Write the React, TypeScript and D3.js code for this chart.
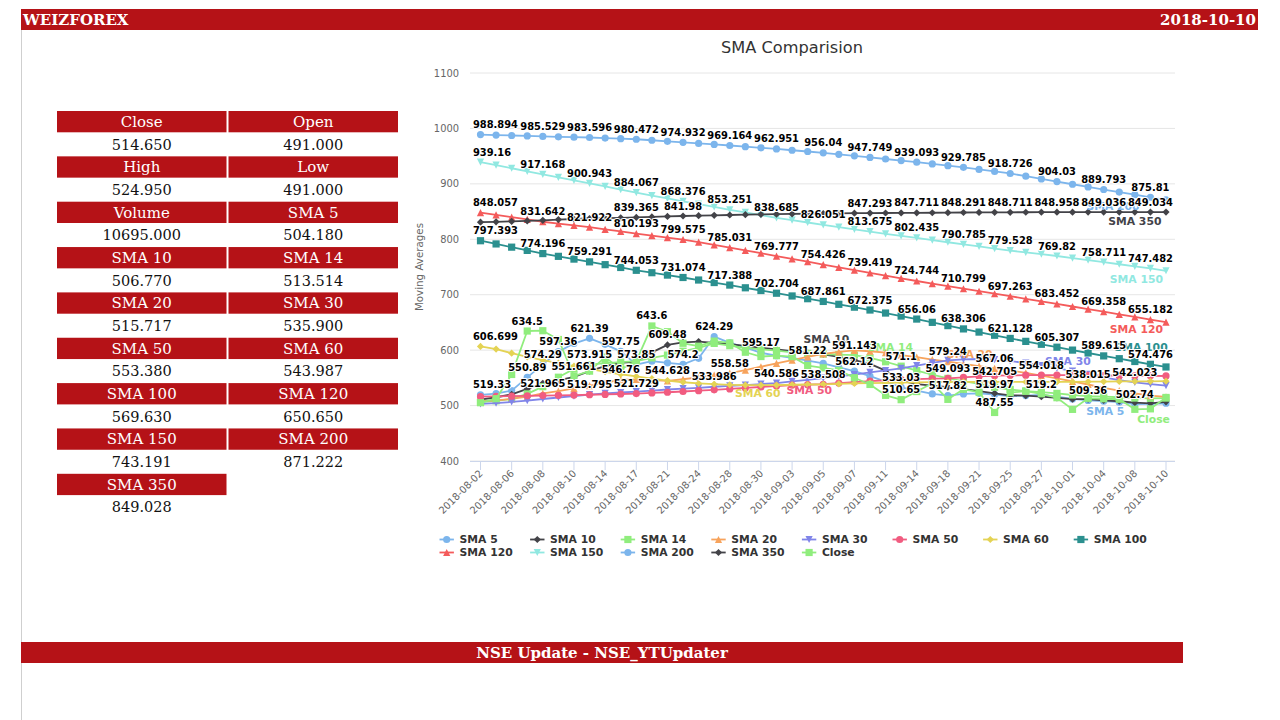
import * as d3 from "d3";
import { useMemo } from "react";

// trading days shown on the x axis
const dates = [
  "2018-08-02", "2018-08-03", "2018-08-06", "2018-08-07", "2018-08-08", "2018-08-09", "2018-08-10", "2018-08-13",
  "2018-08-14", "2018-08-16", "2018-08-17", "2018-08-20", "2018-08-21", "2018-08-23", "2018-08-24", "2018-08-27",
  "2018-08-28", "2018-08-29", "2018-08-30", "2018-08-31", "2018-09-03", "2018-09-04", "2018-09-05", "2018-09-06",
  "2018-09-07", "2018-09-10", "2018-09-11", "2018-09-12", "2018-09-14", "2018-09-17", "2018-09-18", "2018-09-19",
  "2018-09-21", "2018-09-24", "2018-09-25", "2018-09-26", "2018-09-27", "2018-09-28", "2018-10-01", "2018-10-03",
  "2018-10-04", "2018-10-05", "2018-10-08", "2018-10-09", "2018-10-10",
];

const sma5 = [519.33, 521.47, 527.06, 550.89, 574.29, 597.36, 611.94, 621.39, 610.53, 597.75, 573.85, 580.03, 577.11, 574.2, 585.31, 624.29, 613.07, 605.13, 595.17, 590.04, 586.11, 581.22, 576.05, 569.13, 562.12, 553.09, 543.03, 533.03, 527.06, 521.08, 517.82, 521.04, 522.06, 519.97, 517.09, 518.06, 519.2, 516.07, 512.03, 509.36, 508.02, 506.09, 502.74, 503.06, 504.18];
const sma10 = [510.545, 515.03, 520.12, 530.085, 540.23, 545.515, 551.661, 562.04, 571.105, 577.03, 579.52, 596.035, 609.48, 614.08, 615.54, 613.065, 611.02, 607.535, 604.315, 601.21, 598.125, 595.305, 592.51, 588.035, 582.04, 575.115, 563.03, 545.215, 538.53, 536.105, 533.215, 529.605, 526.115, 522.035, 518.52, 517.815, 516.02, 514.045, 511.525, 511.505, 509.315, 507.835, 505.415, 504.03, 506.77];
const sma14 = [506.114, 508.532, 512.075, 521.04, 534.093, 551.146, 566.146, 573.915, 576.507, 578.536, 580.085, 586.046, 591.107, 598.117, 604.036, 612.114, 608.082, 604.043, 601.536, 599.075, 596.018, 594.093, 593.011, 592.057, 591.143, 586.029, 579.064, 571.1, 563.036, 556.011, 549.093, 544.054, 539.029, 533.068, 529.011, 526.043, 524.096, 522.018, 519.057, 517.036, 516.011, 515.043, 513.546, 513.021, 513.514];
const sma20 = [508.02, 509.535, 512.068, 516.04, 521.965, 526.045, 531.018, 536.062, 541.037, 546.76, 547.218, 545.965, 544.628, 547.513, 551.058, 554.825, 558.58, 564.015, 570.068, 576.03, 582.045, 588.012, 593.063, 597.027, 599.545, 598.018, 595.53, 591.055, 587.518, 583.04, 579.24, 575.015, 571.038, 567.06, 563.025, 559.043, 554.018, 549.055, 543.532, 538.015, 532.068, 527.04, 522.013, 518.055, 515.717];
const sma30 = [503.043, 504.512, 506.518, 509.027, 511.843, 514.532, 517.117, 519.795, 522.023, 523.545, 525.017, 527.033, 529.028, 530.512, 532.047, 533.986, 535.518, 537.018, 538.837, 540.586, 543.508, 546.542, 549.517, 552.835, 556.018, 559.807, 563.312, 567.004, 572.017, 577.043, 581.517, 583.515, 584.022, 583.037, 580.518, 576.533, 572.012, 567.528, 562.043, 556.342, 551.017, 546.038, 542.023, 538.512, 535.9];
const sma50 = [516.036, 516.512, 517.031, 517.527, 518.043, 518.518, 519.027, 519.512, 520.137, 520.914, 521.729, 522.811, 524.036, 525.412, 526.927, 528.486, 530.118, 531.831, 533.522, 535.286, 536.913, 537.727, 538.508, 540.626, 542.312, 543.927, 545.411, 546.703, 547.718, 548.525, 549.146, 551.012, 552.526, 554.005, 554.517, 554.806, 555.013, 555.021, 554.814, 554.526, 554.218, 554.013, 553.817, 553.604, 553.38];
const sma60 = [606.699, 602.013, 594.528, 588.017, 582.036, 576.512, 571.028, 566.043, 561.017, 556.532, 552.518, 548.537, 545.012, 542.038, 540.016, 538.527, 537.518, 537.023, 536.812, 537.016, 537.527, 538.013, 538.308, 539.317, 540.021, 540.613, 541.118, 541.627, 542.012, 542.318, 542.517, 542.608, 542.712, 542.705, 542.698, 542.652, 542.615, 542.713, 542.906, 543.117, 543.314, 543.508, 543.623, 543.812, 543.987];
const sma100 = [797.393, 791.594, 785.795, 779.996, 774.196, 769.228, 764.26, 759.291, 754.212, 749.132, 744.053, 739.727, 735.4, 731.074, 726.512, 721.95, 717.388, 712.493, 707.599, 702.704, 697.756, 692.809, 687.861, 682.699, 677.537, 672.375, 666.937, 661.498, 656.06, 650.142, 644.224, 638.306, 632.58, 626.854, 621.128, 615.854, 610.581, 605.307, 600.077, 594.846, 589.615, 584.569, 579.522, 574.476, 569.63];
const sma120 = [848.057, 843.953, 839.849, 835.745, 831.642, 828.402, 825.162, 821.922, 818.012, 814.103, 810.193, 806.654, 803.114, 799.575, 794.727, 789.879, 785.031, 779.946, 774.862, 769.777, 764.66, 759.543, 754.426, 749.424, 744.421, 739.419, 734.527, 729.636, 724.744, 720.096, 715.447, 710.799, 706.287, 701.775, 697.263, 692.659, 688.056, 683.452, 678.754, 674.056, 669.358, 664.633, 659.907, 655.182, 650.65];
const sma150 = [939.16, 933.658, 928.164, 922.667, 917.168, 911.756, 906.349, 900.943, 895.317, 889.692, 884.067, 878.837, 873.606, 868.376, 863.334, 858.292, 853.251, 848.396, 843.541, 838.685, 834.474, 830.262, 826.051, 821.925, 817.8, 813.675, 809.928, 806.182, 802.435, 798.552, 794.668, 790.785, 787.033, 783.281, 779.528, 776.292, 773.056, 769.82, 766.117, 762.414, 758.711, 754.968, 751.225, 747.482, 743.191];
const sma200 = [988.894, 988.012, 987.215, 986.397, 985.529, 984.873, 984.226, 983.596, 982.561, 981.508, 980.472, 978.654, 976.817, 974.932, 973.018, 971.097, 969.164, 967.103, 965.041, 962.951, 960.648, 958.342, 956.04, 953.271, 950.513, 947.749, 944.864, 941.978, 939.093, 935.989, 932.887, 929.785, 926.099, 922.413, 918.726, 913.828, 908.929, 904.03, 899.284, 894.539, 889.793, 885.132, 880.471, 875.81, 871.222];
const sma350 = [830.812, 831.524, 832.298, 833.187, 834.263, 835.479, 836.592, 837.488, 838.216, 838.807, 839.365, 840.279, 841.163, 841.98, 842.614, 843.227, 843.796, 844.318, 844.806, 845.271, 845.692, 846.087, 846.428, 846.791, 847.082, 847.293, 847.418, 847.573, 847.711, 847.905, 848.097, 848.291, 848.427, 848.572, 848.711, 848.804, 848.887, 848.958, 848.997, 849.019, 849.036, 849.041, 849.039, 849.034, 849.028];
const closeValues = [505.2, 512.45, 556.1, 634.5, 635.05, 619.2, 553.35, 562.1, 587.45, 565.3, 580.15, 643.6, 633.25, 612.4, 607.15, 616.3, 613.05, 596.2, 588.45, 590.1, 588.35, 572.2, 568.05, 563.4, 550.25, 538.1, 518.45, 510.65, 525.3, 540.15, 511.2, 529.35, 524.1, 487.55, 523.4, 526.15, 521.3, 514.2, 493.15, 513.05, 512.3, 511.4, 493.25, 494.1, 514.65];

const seriesNames = ["SMA 5", "SMA 10", "SMA 14", "SMA 20", "SMA 30", "SMA 50", "SMA 60", "SMA 100", "SMA 120", "SMA 150", "SMA 200", "SMA 350", "Close"];
const seriesValues = [sma5, sma10, sma14, sma20, sma30, sma50, sma60, sma100, sma120, sma150, sma200, sma350, closeValues];
const seriesColors = ["#7cb5ec", "#434348", "#90ed7d", "#f7a35c", "#8085e9", "#f15c80", "#e4d354", "#2b908f", "#f45b5b", "#91e8e1", "#7cb5ec", "#434348", "#90ed7d"];
const seriesSymbols = ["circle", "diamond", "square", "triangle", "triangle-down", "circle", "diamond", "square", "triangle", "triangle-down", "circle", "diamond", "square"];

// where the series-label module put each name (category index, value)
const seriesLabelSpots = [
  [40.1, 489], [22.2, 619], [26.3, 605], [31.4, 592], [37.7, 580], [21.1, 527], [17.8, 523],
  [42.4, 605], [42.1, 637], [42.1, 728], [40.6, 860], [42.0, 833], [43.2, 475],
];

const yTicks = [400, 500, 600, 700, 800, 900, 1000, 1100];

const tableNames = ["Close", "Open", "High", "Low", "Volume", "SMA 5", "SMA 10", "SMA 14", "SMA 20", "SMA 30", "SMA 50", "SMA 60", "SMA 100", "SMA 120", "SMA 150", "SMA 200", "SMA 350"];
const tableValues = ["514.650", "491.000", "524.950", "491.000", "10695.000", "504.180", "506.770", "513.514", "515.717", "535.900", "553.380", "543.987", "569.630", "650.650", "743.191", "871.222", "849.028"];

const RED = "#b51217";
const SANS = '"DejaVu Sans", sans-serif';
const SERIF = '"DejaVu Serif", serif';

function symbolPath(kind: string, cx: number, cy: number, r: number) {
  switch (kind) {
    case "diamond":
      return `M${cx},${cy - r}L${cx + r},${cy}L${cx},${cy + r}L${cx - r},${cy}Z`;
    case "square":
      return `M${cx - r},${cy - r}h${2 * r}v${2 * r}h${-2 * r}Z`;
    case "triangle":
      return `M${cx},${cy - r}L${cx + r},${cy + r}L${cx - r},${cy + r}Z`;
    case "triangle-down":
      return `M${cx - r},${cy - r}L${cx + r},${cy - r}L${cx},${cy + r}Z`;
    default:
      return `M${cx - r},${cy}a${r},${r} 0 1,0 ${2 * r},0a${r},${r} 0 1,0 ${-2 * r},0Z`;
  }
}

function SmaChart() {
  const plotLeft = 473, plotRight = 1173, plotTop = 73, plotBottom = 461;
  const x = d3.scaleLinear([0, dates.length - 1], [480.5, 1166]);
  const y = d3.scaleLinear([400, 1100], [plotBottom, plotTop]);
  const line = d3.line<number>((d, i) => x(i), (d) => y(d));
  const r = 3.6;

  // data labels, hidden when they collide with ones already placed (series order)
  const dataLabels = useMemo(() => {
    const ctx = document.createElement("canvas").getContext("2d")!;
    ctx.font = `bold 9.9px ${SANS}`;
    const boxes: number[][] = [];
    const out: { text: string; x: number; y: number }[] = [];
    seriesValues.forEach((vals) => {
      vals.forEach((v, i) => {
        const text = String(v);
        const w = ctx.measureText(text).width;
        let left = x(i) - w / 2;
        if (left < plotLeft) left = plotLeft;
        if (left + w > plotRight) left = plotRight - w;
        const py = y(v);
        const b = [left, left + w, py - 16, py - 4];
        const hit = boxes.some((o) => o[0] < b[1] && b[0] < o[1] && o[2] < b[3] && b[2] < o[3]);
        if (hit) return;
        boxes.push(b);
        out.push({ text, x: left + w / 2, y: py - 6.5 });
      });
    });
    return out;
  }, []);

  const tickIdx = dates.map((_, i) => i).filter((i) => i % 2 === 0);

  return (
    <g fontFamily={SANS}>
      <text x={792} y={53} textAnchor="middle" fontSize={16.2} fill="#333333">SMA Comparision</text>

      {yTicks.map((t) => (
        <g key={t}>
          <line x1={plotLeft - 3} x2={plotRight + 2} y1={y(t)} y2={y(t)} stroke="#e6e6e6" strokeWidth={1} />
          <text x={459} y={y(t) + 3.5} textAnchor="end" fontSize={9.9} fill="#666666">{t}</text>
        </g>
      ))}
      <text transform={`translate(423,${(plotTop + plotBottom) / 2}) rotate(-90)`} textAnchor="middle" fontSize={10.3} fill="#666666">
        Moving Averages
      </text>

      <line x1={plotLeft - 3} x2={plotRight + 2} y1={plotBottom + 0.5} y2={plotBottom + 0.5} stroke="#ccd6eb" />
      {tickIdx.map((i) => (
        <g key={i}>
          <line x1={x(i)} x2={x(i)} y1={plotBottom} y2={plotBottom + 9} stroke="#ccd6eb" />
          <text transform={`translate(${x(i) + 3},${plotBottom + 13}) rotate(-45)`} textAnchor="end" fontSize={9.9} fill="#666666">
            {dates[i]}
          </text>
        </g>
      ))}

      {seriesValues.map((vals, si) => (
        <g key={seriesNames[si]}>
          <path d={line(vals) ?? ""} fill="none" stroke={seriesColors[si]} strokeWidth={1.8} strokeLinejoin="round" strokeLinecap="round" />
          {vals.map((v, i) => (
            <path key={i} d={symbolPath(seriesSymbols[si], x(i), y(v), r)} fill={seriesColors[si]} />
          ))}
        </g>
      ))}

      {seriesLabelSpots.map(([i, v], si) => (
        <text key={si} x={x(i)} y={y(v) + 3.8} textAnchor="middle" fontSize={10.8} fontWeight="bold" fill={seriesColors[si]}>
          {seriesNames[si]}
        </text>
      ))}

      {dataLabels.map((l, k) => (
        <text key={k} x={l.x} y={l.y} textAnchor="middle" fontSize={9.9} fontWeight="bold" fill="#000"
          stroke="#fff" strokeWidth={2} strokeLinejoin="round" style={{ paintOrder: "stroke" }}>
          {l.text}
        </text>
      ))}

      {seriesNames.map((name, si) => {
        const lx = 439.5 + (si % 8) * 90.6;
        const ly = 539.5 + Math.floor(si / 8) * 13;
        return (
          <g key={name}>
            <line x1={lx} x2={lx + 14.4} y1={ly} y2={ly} stroke={seriesColors[si]} strokeWidth={1.8} />
            <path d={symbolPath(seriesSymbols[si], lx + 7.2, ly, r)} fill={seriesColors[si]} />
            <text x={lx + 20} y={ly + 3.8} fontSize={10.8} fontWeight="bold" fill="#333333">{name}</text>
          </g>
        );
      })}
    </g>
  );
}

function InfoTable() {
  const colX = [57, 228.5];
  const cellW = 169.5;
  return (
    <g fontFamily={SERIF}>
      {tableNames.map((name, k) => {
        const row = Math.floor(k / 2);
        const col = k % 2;
        const top = 111 + row * 45.35;
        const cx = colX[col] + cellW / 2;
        return (
          <g key={name}>
            <rect x={colX[col]} y={top} width={cellW} height={21.3} fill={RED} />
            <text x={cx} y={top + 16} textAnchor="middle" fontSize={15} fill="#fff">{name}</text>
            <text x={cx} y={top + 38.5} textAnchor="middle" fontSize={14.5} fill="#111">{tableValues[k]}</text>
          </g>
        );
      })}
    </g>
  );
}

export default function App() {
  return (
    <div style={{ position: "absolute", left: 0, top: 0 }}>
      <svg width={1280} height={720} style={{ display: "block", background: "#fff" }}>
        <line x1={21.5} x2={21.5} y1={30} y2={720} stroke="#cfcfcf" />
        <rect x={21} y={9} width={1237} height={21} fill={RED} />
        <text x={23} y={25} fontFamily={SERIF} fontWeight="bold" fontSize={15} fill="#fff">WEIZFOREX</text>
        <text x={1256} y={25} textAnchor="end" fontFamily={SERIF} fontWeight="bold" fontSize={15} fill="#fff">2018-10-10</text>

        <InfoTable />
        <SmaChart />

        <rect x={21} y={642} width={1162} height={21} fill={RED} />
        <text x={602} y={658} textAnchor="middle" fontFamily={SERIF} fontWeight="bold" fontSize={15} fill="#fff">
          NSE Update - NSE_YTUpdater
        </text>
      </svg>
    </div>
  );
}
